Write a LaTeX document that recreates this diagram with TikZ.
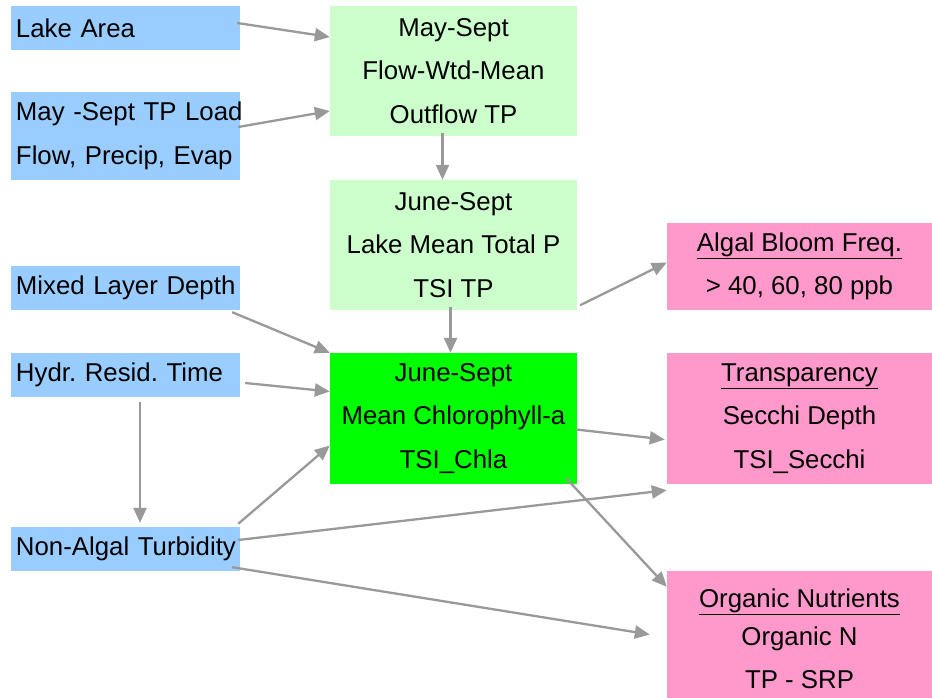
\documentclass[tikz,border=0pt]{standalone}
\usepackage{fontspec}
\setmainfont{Liberation Sans}
\frenchspacing
\usetikzlibrary{arrows.meta,calc}
\definecolor{bluefill}{HTML}{99CCFF}
\definecolor{lightgreen}{HTML}{CCFFCC}
\definecolor{brightgreen}{HTML}{00FF00}
\definecolor{pinkfill}{HTML}{FF99CC}
\definecolor{arrowgray}{HTML}{999999}
\tikzset{
  box/.style={rectangle, draw=none, inner sep=0pt, font=\fontsize{25.8}{43.5}\selectfont},
  bluebox/.style={box, fill=bluefill, minimum width=229pt, text width=219pt, align=left, inner xsep=5pt},
  greenbox/.style={box, fill=lightgreen, minimum width=247pt, minimum height=130pt, align=center},
  chlabox/.style={box, fill=brightgreen, minimum width=247pt, minimum height=131pt, align=center},
  pinkbox/.style={box, fill=pinkfill, minimum width=265pt, align=center},
  arr/.style={draw=arrowgray, line width=2.3pt, -{Triangle[length=15pt,width=13pt]}}
}
\begin{document}
\begin{tikzpicture}[x=1pt,y=-1pt]
\useasboundingbox (0,0) rectangle (932,698);
% left inputs
\node[bluebox, minimum height=44pt] (la) at (125.5,28) {\mbox{Lake Area}};
\node[bluebox, minimum height=88pt] (tpl) at (125.5,136) {\mbox{May -Sept TP Load}\\\mbox{Flow, Precip, Evap}};
\node[bluebox, minimum height=44pt] (mld) at (125.5,288) {\mbox{Mixed Layer Depth}};
\node[bluebox, minimum height=44pt] (hrt) at (125.5,375) {\mbox{Hydr. Resid. Time}};
\node[bluebox, minimum height=44pt] (nat) at (125.5,549) {\mbox{Non-Algal Turbidity}};
% middle column
\node[greenbox] (g1) at (453.5,71) {May-Sept\\Flow-Wtd-Mean\\Outflow TP};
\node[greenbox] (g2) at (453.5,245) {June-Sept\\Lake Mean Total P\\TSI TP};
\node[chlabox] (g3) at (453.5,418.5) {June-Sept\\Mean Chlorophyll-a\\TSI\_Chla};
% right outputs
\node[pinkbox, minimum height=87pt] (p1) at (799.5,266.5) {\underline{Algal Bloom Freq.}\\> 40, 60, 80 ppb};
\node[pinkbox, minimum height=131pt] (p2) at (799.5,418.5) {\underline{Transparency}\\Secchi Depth\\TSI\_Secchi};
\node[pinkbox, minimum height=127pt] (p3) at (799.5,634.5) {\rule{0pt}{28pt}\underline{Organic Nutrients}\\[-6pt]Organic N\\TP - SRP};
% connectors
\draw[arr] ($(la.east)+(-3,-5)$) -- ($(g1.west)+(0,-34)$);
\draw[arr] ($(tpl.east)+(-2,-9)$) -- ($(g1.west)+(0,40)$);
\draw[arr] ($(g1.south)+(-11,-3)$) -- ($(g2.north)+(-11,0)$);
\draw[arr] ($(g2.south)+(-3,-3)$) -- ($(g3.north)+(-3,0)$);
\draw[arr] ($(mld.south east)+(-8,2)$) -- (g3.north west);
\draw[arr] ($(hrt.east)+(5,8)$) -- ($(g3.west)+(0,-27)$);
\draw[arr] ($(hrt.south)+(14.5,5)$) -- ($(nat.north)+(14.5,-4)$);
\draw[arr] ($(nat.north east)+(-2,-3)$) -- ($(g3.west)+(0,27)$);
\draw[arr] ($(nat.east)+(-2,-9)$) -- ($(p2.south west)+(0,6)$);
\draw[arr] ($(nat.south east)+(-8,-4)$) -- ($(p3.west)+(-17,0)$);
\draw[arr] ($(g2.south east)+(3,-5)$) -- ($(p1.west)+(0,-4)$);
\draw[arr] ($(g3.east)+(-1,11)$) -- ($(p2.west)+(-2,21)$);
\draw[arr] ($(g3.south east)+(-11,-6)$) -- ($(p3.north west)+(0,16)$);
\end{tikzpicture}
\end{document}
